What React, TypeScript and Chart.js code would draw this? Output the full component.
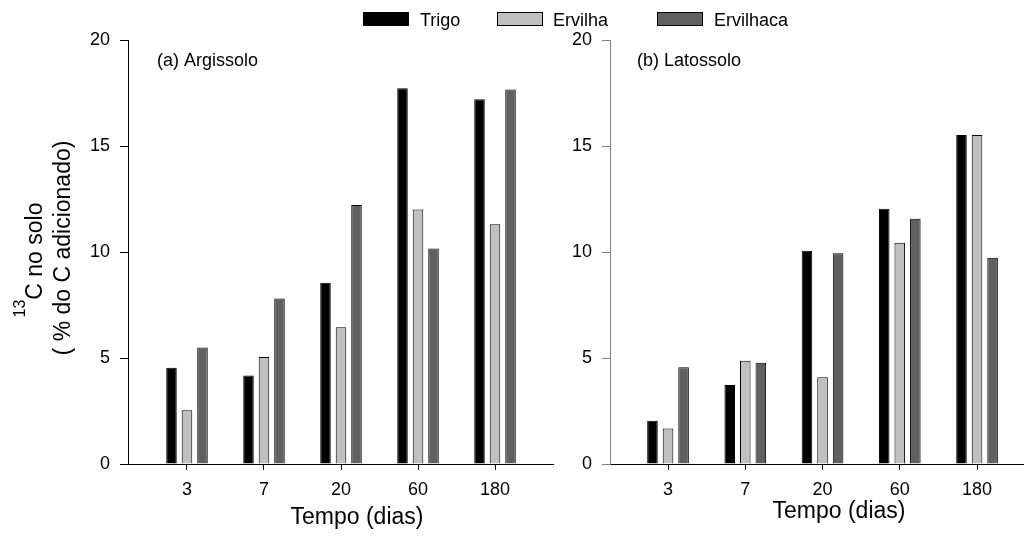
import React, { useEffect, useRef } from "react";
import { Chart, registerables } from "chart.js";

Chart.register(...registerables);

const FONT = '"Liberation Sans", Arial, Helvetica, sans-serif';

const categories = ["3", "7", "20", "60", "180"];
const seriesNames = ["Trigo", "Ervilha", "Ervilhaca"];
const seriesColors = ["#000000", "#c0c0c0", "#606060"];

// (a) Argissolo
const argTrigo = [4.54, 4.18, 8.55, 17.72, 17.2];
const argErvilha = [2.53, 5.05, 6.45, 12.01, 11.31];
const argErvilhaca = [5.5, 7.81, 12.22, 10.17, 17.67];

// (b) Latossolo
const latTrigo = [2.04, 3.73, 10.06, 12.04, 15.52];
const latErvilha = [1.68, 4.87, 4.09, 10.44, 15.52];
const latErvilhaca = [4.56, 4.78, 9.94, 11.57, 9.73];

const yMin = 0;
const yMax = 20;
const yStep = 5;

const textPlugin = {
  id: "panelText",
  afterDraw(chart: any, _args: any, opts: any) {
    const ctx = chart.ctx;
    ctx.save();
    ctx.fillStyle = "#000";
    ctx.textBaseline = "alphabetic";
    ctx.font = `18px ${FONT}`;
    ctx.textAlign = "left";
    ctx.fillText(opts.label, opts.labelX, 66);
    ctx.font = `23px ${FONT}`;
    ctx.textAlign = "center";
    ctx.fillText("Tempo (dias)", opts.titleX, opts.titleBaseline);
    if (opts.yTitle) {
      // second line
      ctx.save();
      ctx.translate(70, 248);
      ctx.rotate(-Math.PI / 2);
      ctx.font = `23px ${FONT}`;
      ctx.textAlign = "center";
      ctx.fillText("( % do C adicionado)", 0, 0);
      ctx.restore();
      // first line with superscript
      ctx.save();
      ctx.translate(42, 260);
      ctx.rotate(-Math.PI / 2);
      ctx.textAlign = "left";
      ctx.font = `16px ${FONT}`;
      const w1 = ctx.measureText("13").width;
      ctx.font = `23px ${FONT}`;
      const w2 = ctx.measureText("C no solo").width;
      const start = -(w1 + w2) / 2;
      ctx.font = `16px ${FONT}`;
      ctx.fillText("13", start, -17);
      ctx.font = `23px ${FONT}`;
      ctx.fillText("C no solo", start + w1, 0);
      ctx.restore();
    }
    ctx.restore();
  },
};

type PanelProps = {
  width: number;
  yAxisWidth: number;
  padRight: number;
  xMin: number;
  xMax: number;
  series: number[][];
  label: string;
  labelX: number;
  titleX: number;
  titleBaseline: number;
  yTitle: boolean;
  yAxisColor: string;
};

function Panel(p: PanelProps) {
  const ref = useRef<HTMLCanvasElement | null>(null);
  useEffect(() => {
    if (!ref.current) return;
    const chart = new Chart(ref.current, {
      type: "bar",
      data: {
        datasets: p.series.map((vals, si) => ({
          label: seriesNames[si],
          data: vals.map((v, i) => ({ x: i, y: v })),
          backgroundColor: seriesColors[si],
          borderColor: "#000000",
          borderWidth: 1,
          categoryPercentage: 0.604,
          barPercentage: 0.68,
        })),
      },
      options: {
        responsive: false,
        animation: false,
        devicePixelRatio: 1,
        layout: { padding: { left: 0, right: p.padRight, top: 40, bottom: 0 } },
        plugins: {
          legend: { display: false },
          tooltip: { enabled: false },
          panelText: {
            label: p.label,
            labelX: p.labelX,
            titleX: p.titleX,
            titleBaseline: p.titleBaseline,
            yTitle: p.yTitle,
          },
        } as any,
        scales: {
          x: {
            type: "linear",
            min: p.xMin,
            max: p.xMax,
            offset: false,
            afterBuildTicks: (scale: any) => {
              scale.ticks = categories.map((_, i) => ({ value: i }));
            },
            afterFit: (scale: any) => {
              scale.height = 75;
            },
            ticks: {
              autoSkip: false,
              maxRotation: 0,
              padding: 9,
              color: "#000",
              font: { family: FONT, size: 18 },
              callback: (v: any) => categories[v] ?? "",
            },
            grid: {
              offset: false,
              drawOnChartArea: false,
              drawTicks: true,
              tickLength: 6,
              color: "#000",
            },
            border: { display: true, color: "#000", width: 1 },
          },
          y: {
            type: "linear",
            min: yMin,
            max: yMax,
            afterFit: (scale: any) => {
              scale.width = p.yAxisWidth;
            },
            ticks: {
              stepSize: yStep,
              padding: 10,
              color: "#000",
              font: { family: FONT, size: 18 },
            },
            grid: {
              drawOnChartArea: false,
              drawTicks: true,
              tickLength: 8,
              color: p.yAxisColor,
            },
            border: { display: true, color: p.yAxisColor, width: 1 },
          },
        },
      },
      plugins: [textPlugin],
    } as any);
    return () => chart.destroy();
  }, []);
  return (
    <canvas
      ref={ref}
      width={p.width}
      height={539}
      style={{ display: "block", width: p.width, height: 539 }}
    />
  );
}

const legendBoxes = [363, 497, 657];
const legendTexts = [420, 553, 714];

export default function App() {
  return (
    <div
      style={{
        position: "fixed",
        left: 0,
        top: 0,
        width: 1024,
        height: 539,
        background: "#fff",
        overflow: "hidden",
      }}
    >
      <div style={{ position: "absolute", left: 0, top: 0 }}>
        <Panel
          width={560}
          yAxisWidth={128}
          padRight={7}
          xMin={-0.766}
          xMax={4.753}
          series={[argTrigo, argErvilha, argErvilhaca]}
          label="(a) Argissolo"
          labelX={157}
          titleX={357}
          titleBaseline={524}
          yTitle={true}
          yAxisColor="#000000"
        />
      </div>
      <div style={{ position: "absolute", left: 560, top: 0 }}>
        <Panel
          width={464}
          yAxisWidth={50}
          padRight={1}
          xMin={-0.751}
          xMax={4.595}
          series={[latTrigo, latErvilha, latErvilhaca]}
          label="(b) Latossolo"
          labelX={77}
          titleX={279}
          titleBaseline={518}
          yTitle={false}
          yAxisColor="#808080"
        />
      </div>
      {seriesNames.map((name, i) => (
        <React.Fragment key={name}>
          <div
            style={{
              position: "absolute",
              left: legendBoxes[i],
              top: 12,
              width: 46,
              height: 14,
              boxSizing: "border-box",
              border: "1px solid #000",
              background: seriesColors[i],
            }}
          />
          <div
            style={{
              position: "absolute",
              left: legendTexts[i],
              top: 11,
              fontFamily: FONT,
              fontSize: 18,
              lineHeight: "18px",
              color: "#000",
              whiteSpace: "nowrap",
            }}
          >
            {name}
          </div>
        </React.Fragment>
      ))}
    </div>
  );
}
